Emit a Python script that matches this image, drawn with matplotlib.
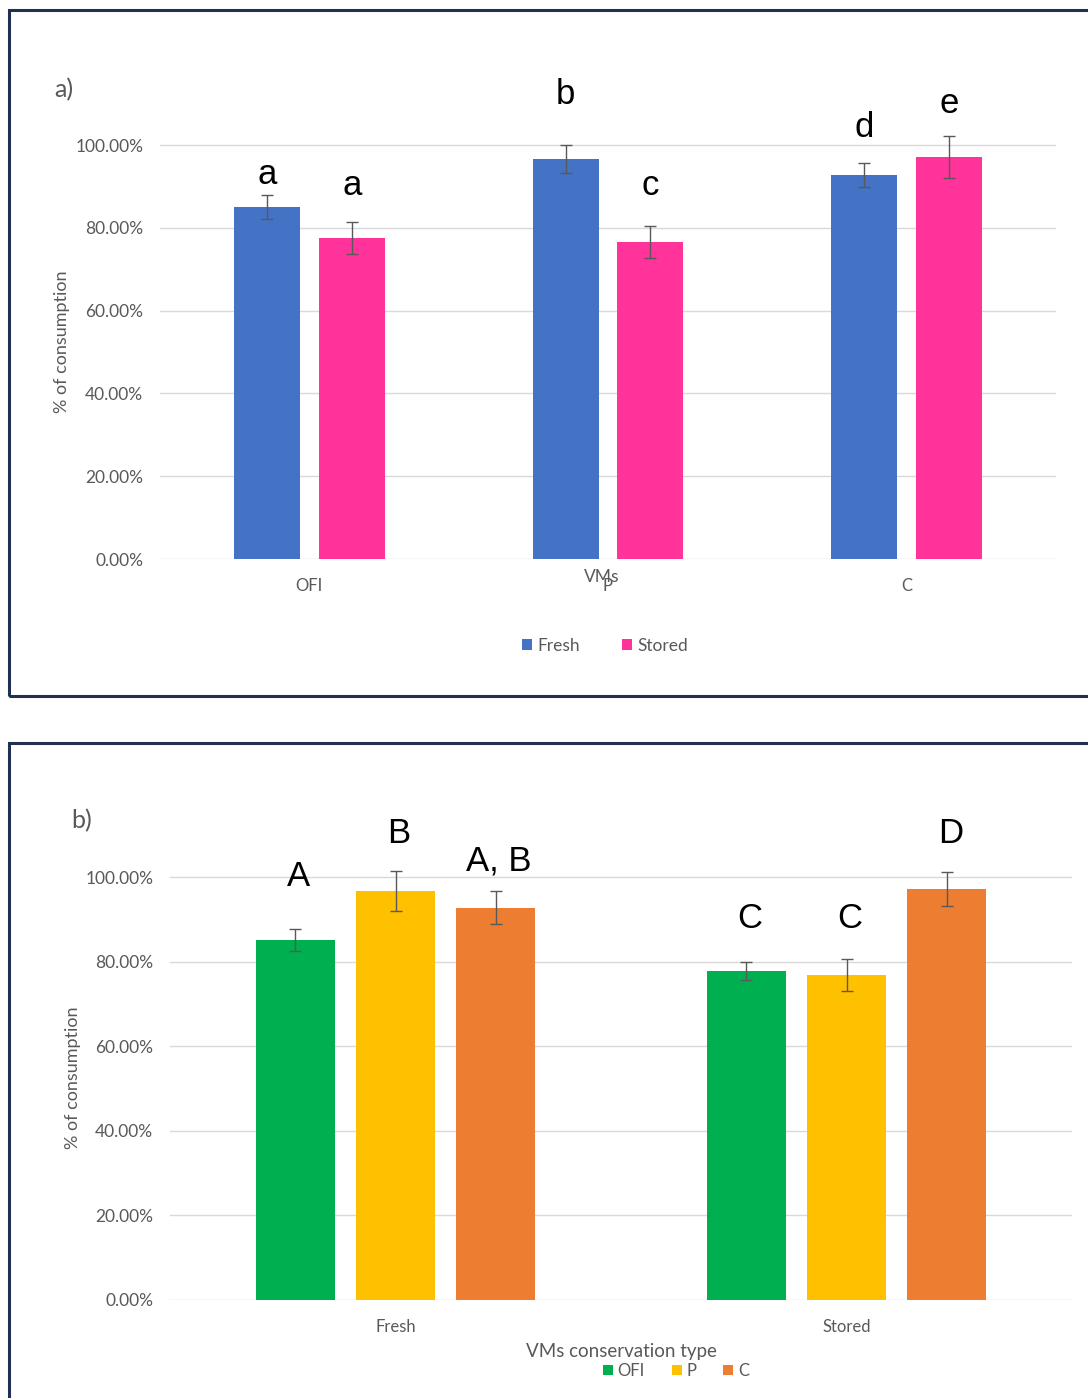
import matplotlib
matplotlib.use("Agg")
import matplotlib.pyplot as plt
import numpy as np
from matplotlib.patches import Rectangle

# ---------------- data ----------------
cats_a = ["OFI", "P", "C"]
fresh_a = [0.850, 0.966, 0.928]
fresh_err_a = [0.029, 0.033, 0.029]
stored_a = [0.775, 0.766, 0.971]
stored_err_a = [0.039, 0.038, 0.050]
letters_fresh_a = ["a", "b", "d"]
letters_stored_a = ["a", "c", "e"]
letters_fresh_a_y = [0.928, 1.121, 1.043]
letters_stored_a_y = [0.903, 0.901, 1.101]

cats_b = ["Fresh", "Stored"]
ofi_b = [0.851, 0.778]
ofi_err_b = [0.025, 0.022]
p_b = [0.967, 0.768]
p_err_b = [0.048, 0.038]
c_b = [0.927, 0.972]
c_err_b = [0.039, 0.041]
letters_b = [["A", "B", "A, B"], ["C", "C", "D"]]
letters_b_y = [[1.000, 1.102, 1.038], [0.901, 0.901, 1.104]]

yticks = [0.0, 0.2, 0.4, 0.6, 0.8, 1.0]
ytick_labels = ["0.00%", "20.00%", "40.00%", "60.00%", "80.00%", "100.00%"]

# ---------------- style ----------------
W, H = 1088, 1398
fig = plt.figure(figsize=(W / 100, H / 100), dpi=100)
FONT = ["Lato", "DejaVu Sans"]
LET = ["Liberation Sans", "DejaVu Sans"]
TXT = "#595959"
GRID = "#D9D9D9"
BORDER = "#1F3050"

def fx(px):
    return px / W

def fy(py):
    return 1 - py / H

# panel borders
fig.patches.append(Rectangle((fx(9), fy(696)), fx(1100) - fx(9), fy(10) - fy(696),
                             transform=fig.transFigure, fill=False, ec=BORDER, lw=2.2, zorder=0))
fig.patches.append(Rectangle((fx(9), fy(1410)), fx(1100) - fx(9), fy(743) - fy(1410),
                             transform=fig.transFigure, fill=False, ec=BORDER, lw=2.2, zorder=0))

def style_axes(ax):
    for s in ax.spines.values():
        s.set_visible(False)
    ax.set_yticks(yticks)
    ax.set_yticklabels(ytick_labels, fontfamily=FONT, fontsize=12.5, color=TXT)
    ax.tick_params(axis="both", length=0)
    ax.tick_params(axis="y", pad=12)
    ax.yaxis.grid(True, color=GRID, lw=1)
    ax.set_axisbelow(True)

ekw = dict(ecolor="#595959", elinewidth=1, capsize=4, capthick=1)

# ---------------- panel a ----------------
ya0, ya100 = 559, 145
top_a = 40
axa = fig.add_axes([fx(160), fy(ya0), fx(1056) - fx(160), (ya0 - top_a) / H])
axa.set_ylim(0, (ya0 - top_a) / (ya0 - ya100))
x = np.arange(len(cats_a))
bw, off = 0.221, 0.142
axa.bar(x - off, fresh_a, bw, color="#4472C4", label="Fresh", yerr=fresh_err_a, error_kw=ekw)
axa.bar(x + off, stored_a, bw, color="#FF3399", label="Stored", yerr=stored_err_a, error_kw=ekw)
axa.set_xlim(-0.5, 2.5)
style_axes(axa)
axa.set_xticks(x)
axa.set_xticklabels(cats_a, fontfamily=FONT, fontsize=12, color=TXT)
axa.tick_params(axis="x", pad=14)
for i in range(3):
    axa.text(x[i] - off, letters_fresh_a_y[i], letters_fresh_a[i], ha="center", va="center",
             fontfamily=LET, fontsize=25, color="black")
    axa.text(x[i] + off, letters_stored_a_y[i], letters_stored_a[i], ha="center", va="center",
             fontfamily=LET, fontsize=25, color="black")
fig.text(fx(602), fy(577), "VMs", ha="center", va="center", fontfamily=FONT, fontsize=12.5, color=TXT)
fig.text(fx(64), fy(90), "a)", ha="center", va="center", fontfamily=FONT, fontsize=18, color=TXT)
fig.text(fx(62), fy(342), "% of consumption", ha="center", va="center", rotation=90,
         fontfamily=FONT, fontsize=13, color=TXT)
axa.legend(loc="center", bbox_to_anchor=(fx(605), fy(646)), bbox_transform=fig.transFigure,
           ncol=2, frameon=False, prop={"family": FONT, "size": 12.5}, labelcolor=TXT,
           handlelength=0.6, handleheight=0.6, handletextpad=0.3, columnspacing=2.4)

# ---------------- panel b ----------------
yb0, yb100 = 1300, 877
top_b = 780
axb = fig.add_axes([fx(170), fy(yb0), fx(1072) - fx(170), (yb0 - top_b) / H])
axb.set_ylim(0, (yb0 - top_b) / (yb0 - yb100))
xb = np.arange(len(cats_b))
bwb, offb = 0.175, 0.222
axb.bar(xb - offb, ofi_b, bwb, color="#00B050", label="OFI", yerr=ofi_err_b, error_kw=ekw)
axb.bar(xb, p_b, bwb, color="#FFC000", label="P", yerr=p_err_b, error_kw=ekw)
axb.bar(xb + offb, c_b, bwb, color="#ED7D31", label="C", yerr=c_err_b, error_kw=ekw)
axb.set_xlim(-0.5, 1.5)
style_axes(axb)
axb.set_xticks(xb)
axb.set_xticklabels(cats_b, fontfamily=FONT, fontsize=12, color=TXT)
axb.tick_params(axis="x", pad=14)
for i in range(2):
    for j, dx in enumerate([-offb, 0, offb]):
        axb.text(xb[i] + dx + 0.008, letters_b_y[i][j], letters_b[i][j], ha="center", va="center",
                 fontfamily=LET, fontsize=25, color="black")
fig.text(fx(82), fy(821), "b)", ha="center", va="center", fontfamily=FONT, fontsize=18, color=TXT)
fig.text(fx(73), fy(1078), "% of consumption", ha="center", va="center", rotation=90,
         fontfamily=FONT, fontsize=13, color=TXT)
fig.text(fx(621), fy(1351), "VMs conservation type", ha="center", va="center",
         fontfamily=FONT, fontsize=13.5, color=TXT)
axb.legend(loc="center", bbox_to_anchor=(fx(676), fy(1371)), bbox_transform=fig.transFigure,
           ncol=3, frameon=False, prop={"family": FONT, "size": 12}, labelcolor=TXT,
           handlelength=0.6, handleheight=0.6, handletextpad=0.3, columnspacing=1.6)

fig.savefig("out.png", dpi=100, facecolor="white")
